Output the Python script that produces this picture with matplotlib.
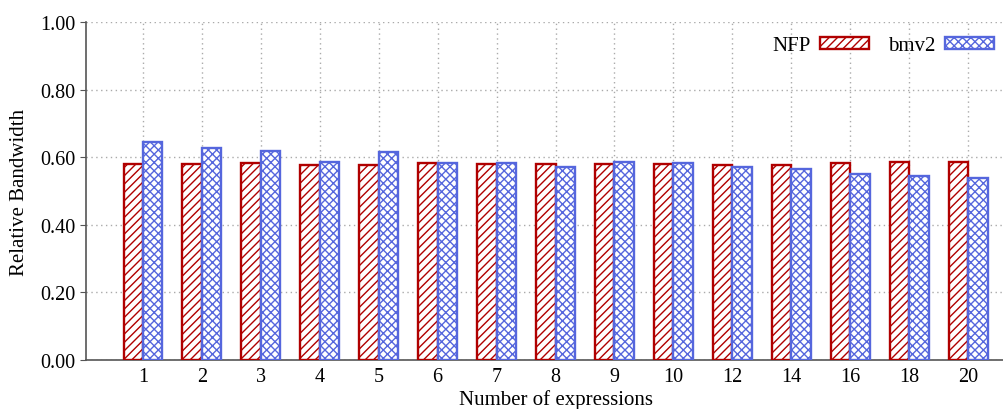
import matplotlib
matplotlib.use('Agg')
import numpy as np
import matplotlib.pyplot as plt

categories = ['1', '2', '3', '4', '5', '6', '7', '8', '9', '10', '12', '14', '16', '18', '20']
nfp = [0.580, 0.580, 0.582, 0.578, 0.578, 0.582, 0.580, 0.580, 0.581, 0.579,
       0.578, 0.578, 0.584, 0.585, 0.585]
bmv2 = [0.644, 0.626, 0.619, 0.587, 0.616, 0.582, 0.582, 0.572, 0.585, 0.582,
        0.572, 0.564, 0.551, 0.543, 0.539]

red = '#b00000'
blue = '#5566dd'

plt.rcParams['font.family'] = ['Liberation Serif', 'DejaVu Serif']
plt.rcParams['hatch.linewidth'] = 1.0

fig = plt.figure(figsize=(10.04, 4.10), dpi=100)
ax = fig.add_axes([86 / 1004, 1 - 361 / 410, 941 / 1004, 338 / 410])

x = np.arange(len(categories))
w = 0.33
ax.bar(x - w, nfp, w, align='edge', facecolor='white', edgecolor=red,
       hatch='////', linewidth=1.7, label='NFP', zorder=3)
ax.bar(x, bmv2, w, align='edge', facecolor='white', edgecolor=blue,
       hatch='xxxx', linewidth=1.7, label='bmv2', zorder=3)

ax.set_xlim(-0.967, 15.0)
ax.set_ylim(0, 1.0)
ax.set_xticks(x)
ax.set_xticklabels(categories)
ax.set_yticks(np.arange(0, 1.01, 0.2))
ax.set_yticklabels(['%.2f' % v for v in np.arange(0, 1.01, 0.2)])
ax.tick_params(axis='x', length=0, labelsize=14.5, pad=5)
ax.tick_params(axis='y', length=4, direction='out', color='#555555', labelsize=14.5)

ax.grid(True, linestyle=(0, (1, 2.5)), color='#aaaaaa', linewidth=1.0, zorder=0)
ax.set_axisbelow(True)
for s in ['top', 'right']:
    ax.spines[s].set_visible(False)
for s in ['left', 'bottom']:
    ax.spines[s].set_color('#555555')
    ax.spines[s].set_linewidth(1.2)

ax.set_ylabel('Relative Bandwidth', fontsize=15, labelpad=8)
ax.set_xlabel('Number of expressions', fontsize=15, labelpad=2)

fig.legend(loc='upper right', bbox_to_anchor=(1004 / 1004, 1 - 27 / 410),
           ncol=2, markerfirst=False, frameon=False, fontsize=15, borderpad=0,
           handlelength=2.35, handleheight=0.55, columnspacing=0.9, handletextpad=0.45)

fig.savefig('out.png', dpi=100)
